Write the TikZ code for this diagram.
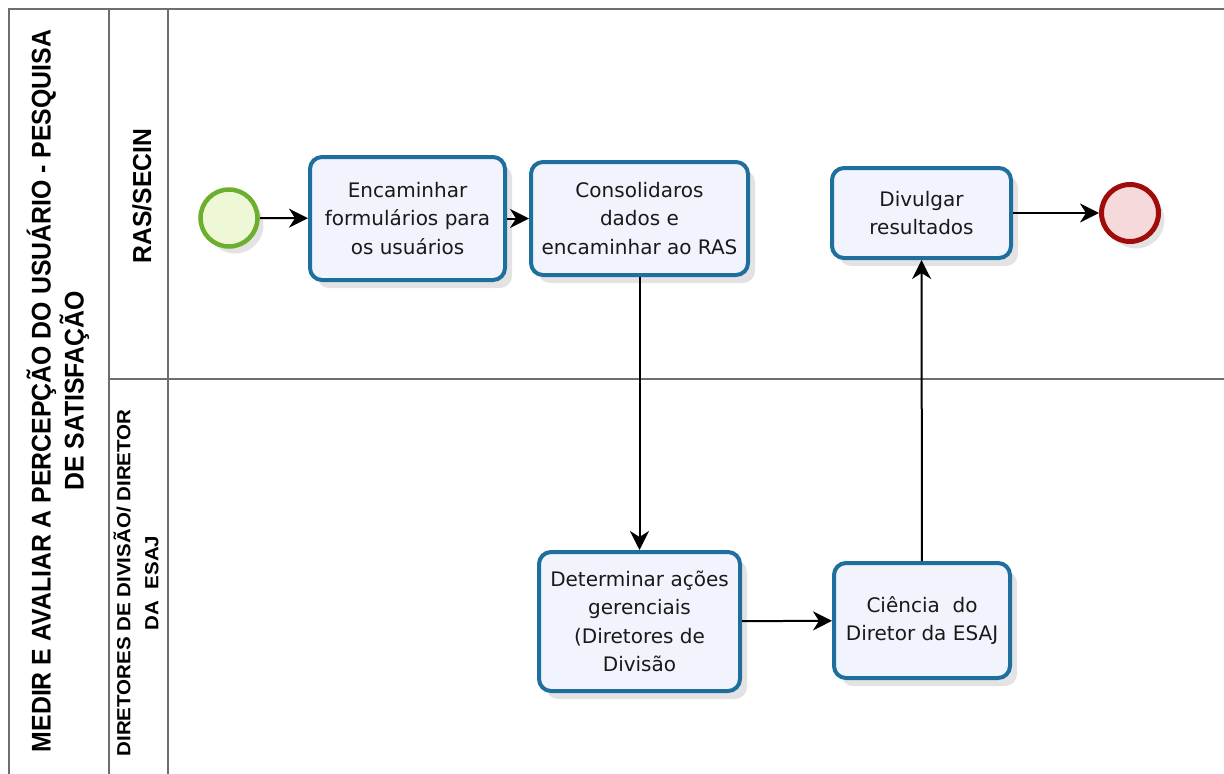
\documentclass[tikz,border=0pt]{standalone}
\usepackage{fontspec}
\setmainfont{DejaVu Sans}
\newfontfamily\lanefont{Liberation Sans}
\usetikzlibrary{arrows.meta,shadows}
\definecolor{taskblue}{HTML}{1E6E9E}
\definecolor{taskfill}{HTML}{F2F4FD}
\definecolor{startgreen}{HTML}{6BAF2C}
\definecolor{startfill}{HTML}{EEF7D6}
\definecolor{endred}{HTML}{A00C0C}
\definecolor{endfill}{HTML}{F6D9DA}
\definecolor{lanegray}{HTML}{6E6E6E}
\newcommand{\narrow}[2][0.92]{\scalebox{#1}[1]{#2}}
\begin{document}
\begin{tikzpicture}[x=1pt,y=-1pt,>={Stealth[length=19pt,width=19pt,inset=6pt]},
  task/.style={draw=taskblue,line width=4pt,rounded corners=12pt,fill=taskfill,
    align=center,inner sep=0pt,text=black!90,font=\fontsize{20}{28.5}\selectfont,
    drop shadow={opacity=0.22,shadow xshift=7pt,shadow yshift=-8pt}},
  startev/.style={circle,draw=startgreen,line width=4.5pt,fill=startfill,minimum size=57pt,
    drop shadow={opacity=0.22,shadow xshift=6pt,shadow yshift=-7pt}},
  endev/.style={circle,draw=endred,line width=5pt,fill=endfill,minimum size=57pt,
    drop shadow={opacity=0.22,shadow xshift=6pt,shadow yshift=-7pt}},
  lanelabel/.style={rotate=90,align=center,font=\lanefont\bfseries},
  flow/.style={->,line width=2pt}]
\useasboundingbox (0,0) rectangle (1224,774);
\clip (0,0) rectangle (1224,774);
\draw[lanegray,line width=2pt] (9,9) rectangle (1240,790) (109,9)--(109,790) (168,9)--(168,790) (109,379)--(1240,379);
\node[lanelabel,font=\lanefont\bfseries\fontsize{27}{33}\selectfont] (pooltitle) at (58,391)
  {\narrow{MEDIR E AVALIAR A PERCEPÇÃO DO USUÁRIO - PESQUISA}\\ \narrow{DE SATISFAÇÃO}};
\node[lanelabel,font=\lanefont\bfseries\fontsize{26}{30}\selectfont] (lane1) at (142,196) {\narrow[0.95]{RAS/SECIN}};
\node[lanelabel,font=\lanefont\bfseries\fontsize{19}{28}\selectfont] (lane2) at (136,583)
  {\narrow[1.08]{DIRETORES DE DIVISÃO/ DIRETOR}\\ \narrow[1.08]{DA\ \ ESAJ}};
\node[startev] (start) at (229,218) {};
\node[task,minimum width=195pt,minimum height=123pt] (forms) at (407.5,218.5) {Encaminhar\\formulários para\\os usuários};
\node[task,minimum width=217pt,minimum height=113pt] (consol) at (639.5,218.5) {Consolidaros\\dados e\\encaminhar ao RAS};
\node[task,minimum width=179pt,minimum height=90pt] (divulg) at (921.5,213) {Divulgar\\resultados};
\node[endev] (end) at (1130,213) {};
\node[task,minimum width=201pt,minimum height=139pt] (determ) at (639.5,621.5) {Determinar ações\\gerenciais\\(Diretores de\\Divisão};
\node[task,minimum width=176pt,minimum height=115pt] (ciencia) at (922,620.5) {Ciência\ \ do\\Diretor da ESAJ};
\draw[flow] (start) -- (forms);
\draw[flow] (forms) -- (consol);
\draw[flow] (consol) -- (determ);
\draw[flow] (determ) -- (ciencia);
\draw[flow] (ciencia) -- (divulg);
\draw[flow] (divulg) -- (end);
\end{tikzpicture}
\end{document}
